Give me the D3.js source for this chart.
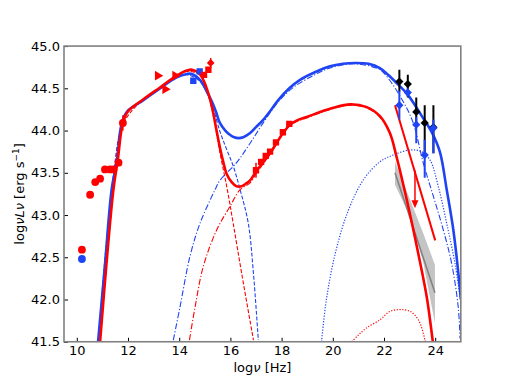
<!DOCTYPE html>
<html>
<head>
<meta charset="utf-8">
<script src="https://cdn.jsdelivr.net/npm/d3@7"></script>
<style>
  body { margin: 0; background: #fff; }
  svg { display: block; }
  text { font-family: "DejaVu Sans", sans-serif; }
</style>
</head>
<body>
<div id="chart"></div>
<script>
// ---- data (log nu, log nuLnu) ----
var xTicks = [10, 12, 14, 16, 18, 20, 22, 24];
var yTicks = [41.5, 42.0, 42.5, 43.0, 43.5, 44.0, 44.5, 45.0];

// model curves, high state (blue)
var blueTotX = [10.83, 11.1, 11.36, 11.57, 11.73, 11.95, 12.6, 13.25, 13.9, 14.3, 14.5, 14.81, 15.05, 15.28, 15.44, 15.59, 15.8, 15.98, 16.15, 16.31, 16.5, 16.77, 17.0, 17.29, 17.6, 17.87, 18.3, 18.72, 19.3, 19.89, 20.4, 20.87, 21.4, 21.84, 22.16, 22.5, 22.94, 23.46, 23.85, 24.18, 24.45, 24.71, 24.97, 25.0];
var blueTotY = [41.5, 42.41, 43.3, 43.65, 44.05, 44.22, 44.36, 44.5, 44.63, 44.67, 44.67, 44.6, 44.48, 44.34, 44.22, 44.09, 44.0, 43.95, 43.92, 43.91, 43.92, 43.97, 44.04, 44.13, 44.25, 44.36, 44.5, 44.6, 44.69, 44.76, 44.79, 44.8, 44.79, 44.74, 44.66, 44.56, 44.42, 44.18, 43.99, 43.75, 43.3, 42.82, 42.11, 42.0];
var blueSyncX = [10.83, 11.36, 11.73, 11.95, 12.6, 13.25, 13.9, 14.3, 14.81, 15.28, 15.59, 15.85, 16.11, 16.38, 16.7, 16.9, 17.09];
var blueSyncY = [41.5, 43.3, 44.05, 44.22, 44.36, 44.5, 44.63, 44.66, 44.58, 44.3, 43.99, 43.78, 43.58, 43.3, 42.9, 42.31, 41.52];
var blueSscX = [13.77, 14.03, 14.42, 14.81, 15.4, 15.59, 16.24, 16.77, 17.3, 17.9, 18.5, 19.3, 19.89, 20.87, 21.84, 22.16, 22.68, 23.13, 23.54, 23.93, 24.32, 24.64, 24.9, 24.97];
var blueSscY = [41.52, 41.91, 42.51, 42.9, 43.3, 43.41, 43.62, 43.85, 44.1, 44.35, 44.52, 44.66, 44.74, 44.79, 44.72, 44.62, 44.38, 44.1, 43.61, 43.22, 42.82, 42.43, 41.91, 41.54];
var blueEcX = [19.56, 19.75, 20.1, 20.6, 21.2, 21.84, 22.36, 23.02, 23.47, 23.8, 24.12, 24.45, 24.77, 24.97];
var blueEcY = [41.5, 42.0, 42.55, 43.05, 43.42, 43.63, 43.71, 43.77, 43.75, 43.65, 43.34, 42.9, 42.43, 42.03];

// model curves, low state (red)
var redTotX = [10.91, 11.43, 11.6, 11.78, 11.98, 12.6, 13.25, 13.9, 14.3, 14.5, 14.8, 15.05, 15.28, 15.44, 15.59, 15.72, 15.85, 16.05, 16.24, 16.44, 16.6, 16.77, 17.03, 17.3, 17.55, 17.9, 18.33, 18.6, 18.98, 19.5, 20.02, 20.67, 21.3, 21.84, 22.23, 22.49, 22.89, 23.28, 23.67, 23.9, 24.0];
var redTotY = [41.5, 43.3, 43.65, 44.06, 44.22, 44.37, 44.51, 44.65, 44.71, 44.72, 44.67, 44.52, 44.28, 44.03, 43.8, 43.63, 43.49, 43.39, 43.34, 43.34, 43.37, 43.41, 43.53, 43.63, 43.73, 43.9, 44.07, 44.12, 44.16, 44.22, 44.27, 44.31, 44.28, 44.17, 43.97, 43.69, 43.18, 42.63, 42.03, 41.52, 41.3];
var redSyncX = [10.91, 11.43, 11.78, 12.6, 13.25, 13.9, 14.3, 14.8, 15.05, 15.28, 15.59, 15.88, 16.11, 16.44, 16.9];
var redSyncY = [41.5, 43.3, 44.06, 44.37, 44.51, 44.65, 44.7, 44.66, 44.5, 44.25, 43.74, 43.3, 42.9, 42.31, 41.52];
var redSscX = [14.4, 14.62, 14.94, 15.46, 15.98, 16.38, 16.77, 17.03, 17.55, 18.33, 18.98, 20.02, 20.67, 21.3, 21.84, 22.23, 22.49, 22.89, 23.28, 23.67, 23.9];
var redSscY = [41.52, 41.91, 42.39, 42.82, 43.1, 43.3, 43.38, 43.5, 43.72, 44.06, 44.15, 44.26, 44.3, 44.27, 44.16, 43.96, 43.68, 43.17, 42.62, 42.02, 41.5];
var redEcX = [20.74, 21.0, 21.3, 21.84, 22.23, 22.63, 23.02, 23.34, 23.6, 23.65];
var redEcY = [41.5, 41.58, 41.66, 41.76, 41.86, 41.88, 41.86, 41.76, 41.52, 41.4];

// observed points
var radioRedX = [10.2, 10.52, 10.72, 10.91, 11.1, 11.3, 11.43, 11.63, 11.8];
var radioRedY = [42.59, 43.24, 43.39, 43.43, 43.54, 43.54, 43.54, 43.62, 44.09];
var radioBlueX = [10.2];
var radioBlueY = [42.48];
var irRedX = [13.16, 13.45, 13.84];
var irRedY = [44.65, 44.49, 44.65];
var optBlueX = [14.55, 14.8];
var optBlueY = [44.59, 44.7];
var optRedX = [14.97, 15.14];
var optRedY = [44.66, 44.72];
var uvRedX = [15.23];
var uvRedY = [44.8];
var xrayRedX = [17.0, 17.2, 17.38, 17.55, 17.78, 18.05, 18.3];
var xrayRedY = [43.53, 43.63, 43.7, 43.75, 43.86, 43.98, 44.08];

// gamma rays
var gamX = [22.6, 22.93, 23.26, 23.59, 23.93];
var gamBlackY = [44.58, 44.55, 44.22, 44.09, 44.04];
var gamBlackLo = [44.46, 44.39, 44.07, 43.71, 43.73];
var gamBlackHi = [44.72, 44.66, 44.39, 44.3, 44.3];
var gamBlueY = [44.3, 44.45, 44.07, 43.71, 44.03];
var gamBlueLo = [44.13, 44.4, 43.85, 43.44, 43.73];
var gamBlueHi = [44.47, 44.5, 44.16, 43.89, 44.13];

// low state gamma: upper limit, power law and bowtie
var ulX = [23.21];
var ulY = [43.53];
var ulTo = [43.08];
var plRedX = [22.43, 24.0];
var plRedY = [44.3, 42.7];
var bowX = [22.43, 23.02, 23.54, 23.99];
var bowHi = [43.63, 43.18, 42.78, 42.41];
var bowLo = [43.36, 42.98, 42.43, 41.72];
var bowMidX = [22.43, 23.99];
var bowMidY = [43.5, 42.08];

var RED = "#ff0000", BLUE = "#1f44f4";

// ---- chart ----
var margin = { top: 46.08, right: 51.2, bottom: 42.24, left: 64 },
    width = 512 - margin.left - margin.right,
    height = 384 - margin.top - margin.bottom;

var svg = d3.select("#chart").append("svg")
    .attr("width", 512)
    .attr("height", 384)
    .append("g")
    .attr("transform", "translate(" + margin.left + "," + margin.top + ")");

var x = d3.scaleLinear().domain([9.5, 25]).range([0, width]);
var y = d3.scaleLinear().domain([41.5, 45]).range([height, 0]);

svg.append("clipPath").attr("id", "clip")
    .append("rect").attr("width", width).attr("height", height);

var plot = svg.append("g").attr("clip-path", "url(#clip)");

var line = d3.line()
    .x(function (d) { return x(d[0]); })
    .y(function (d) { return y(d[1]); })
    .curve(d3.curveCatmullRom.alpha(0.5));

function curve(xs, ys, color, w, dash) {
    plot.append("path")
        .datum(d3.zip(xs, ys))
        .attr("fill", "none")
        .attr("stroke", color)
        .attr("stroke-width", w)
        .attr("stroke-dasharray", dash || null)
        .attr("d", line);
}

// bowtie
var area = d3.area()
    .x(function (d) { return x(d[0]); })
    .y0(function (d) { return y(d[2]); })
    .y1(function (d) { return y(d[1]); });
plot.append("path")
    .datum(d3.zip(bowX, bowHi, bowLo))
    .attr("fill", "#c4c4c4")
    .attr("d", area);
plot.append("path")
    .datum(d3.zip(bowMidX, bowMidY))
    .attr("fill", "none").attr("stroke", "#808080").attr("stroke-width", 1.5)
    .attr("d", d3.line().x(function (d) { return x(d[0]); }).y(function (d) { return y(d[1]); }));

// components
var DASH = "4,1.8", DASHDOT = "6,2,1.2,2", DOT = "1.2,1.6";
curve(blueSyncX, blueSyncY, BLUE, 1.1, DASH);
curve(redSyncX, redSyncY, RED, 1.1, DASH);
curve(blueSscX, blueSscY, BLUE, 1.1, DASHDOT);
curve(redSscX, redSscY, RED, 1.1, DASHDOT);
curve(blueEcX, blueEcY, BLUE, 1.2, DOT);
curve(redEcX, redEcY, RED, 1.2, DOT);

// totals
curve(blueTotX, blueTotY, BLUE, 2.6);
curve(redTotX, redTotY, RED, 2.6);

// red power law line
plot.append("path")
    .datum(d3.zip(plRedX, plRedY))
    .attr("fill", "none").attr("stroke", RED).attr("stroke-width", 2)
    .attr("d", d3.line().x(function (d) { return x(d[0]); }).y(function (d) { return y(d[1]); }));

// upper limit arrow
ulX.forEach(function (v, i) {
    plot.append("line")
        .attr("x1", x(v)).attr("x2", x(v))
        .attr("y1", y(ulY[i])).attr("y2", y(ulTo[i]) - 6)
        .attr("stroke", RED).attr("stroke-width", 1.5);
    plot.append("path")
        .attr("d", "M" + (x(v) - 3.5) + "," + (y(ulTo[i]) - 8) + "L" + (x(v) + 3.5) + "," + (y(ulTo[i]) - 8) + "L" + x(v) + "," + y(ulTo[i]) + "Z")
        .attr("fill", RED);
});

// markers
function points(xs, ys, color, type, size, rot) {
    var sym = d3.symbol().type(type).size(size);
    plot.selectAll(null)
        .data(d3.zip(xs, ys))
        .enter().append("path")
        .attr("d", sym)
        .attr("fill", color)
        .attr("transform", function (d) {
            return "translate(" + x(d[0]) + "," + y(d[1]) + ")" + (rot ? " rotate(" + rot + ")" : "");
        });
}

function errbars(xs, lo, hi, color, w) {
    plot.selectAll(null)
        .data(d3.zip(xs, lo, hi))
        .enter().append("line")
        .attr("x1", function (d) { return x(d[0]); })
        .attr("x2", function (d) { return x(d[0]); })
        .attr("y1", function (d) { return y(d[1]); })
        .attr("y2", function (d) { return y(d[2]); })
        .attr("stroke", color)
        .attr("stroke-width", w);
}

points(radioBlueX, radioBlueY, BLUE, d3.symbolCircle, 48);
points(radioRedX, radioRedY, RED, d3.symbolCircle, 48);
errbars([11.8], [44.0], [44.18], RED, 1.5);
points(irRedX, irRedY, RED, d3.symbolTriangle, 40, 90);
points(optBlueX, optBlueY, BLUE, d3.symbolSquare, 40);
points(optRedX, optRedY, RED, d3.symbolSquare, 40);
errbars(uvRedX, [44.74], [44.86], RED, 1.5);
points(uvRedX, uvRedY, RED, d3.symbolSquare, 30, 45);
errbars([17.0], [43.44], [43.62], RED, 1.5);
points(xrayRedX, xrayRedY, RED, d3.symbolSquare, 40);

errbars(gamX, gamBlackLo, gamBlackHi, "#000", 2);
points(gamX, gamBlackY, "#000", d3.symbolSquare, 34, 45);
errbars(gamX, gamBlueLo, gamBlueHi, BLUE, 2);
points(gamX, gamBlueY, BLUE, d3.symbolSquare, 34, 45);

// axes
var xAxis = svg.append("g")
    .attr("transform", "translate(0," + height + ")")
    .call(d3.axisBottom(x).tickValues(xTicks).tickSizeInner(-4).tickSizeOuter(0).tickPadding(4));
var yAxis = svg.append("g")
    .call(d3.axisLeft(y).tickValues(yTicks).tickFormat(d3.format(".1f")).tickSizeInner(-4).tickSizeOuter(0).tickPadding(4));
[xAxis, yAxis].forEach(function (a) {
    a.select(".domain").remove();
    a.selectAll("text").attr("font-size", 13).attr("fill", "#000")
        .attr("font-family", "DejaVu Sans, sans-serif");
    a.selectAll("line").attr("stroke", "#000");
});

// frame
svg.append("rect")
    .attr("width", width).attr("height", height)
    .attr("fill", "none").attr("stroke", "#808080").attr("stroke-width", 1.6);

// axis labels
var xl = svg.append("text")
    .attr("x", width / 2).attr("y", height + 30)
    .attr("text-anchor", "middle").attr("font-size", 13);
xl.append("tspan").text("log");
xl.append("tspan").attr("font-style", "italic").text("ν");
xl.append("tspan").text(" [Hz]");

var yl = svg.append("text")
    .attr("transform", "translate(" + (-40.5) + "," + (height / 2) + ") rotate(-90)")
    .attr("text-anchor", "middle").attr("font-size", 13);
yl.append("tspan").text("log");
yl.append("tspan").attr("font-style", "italic").text("νLν");
yl.append("tspan").text(" [erg s");
yl.append("tspan").attr("font-size", 9).attr("dy", -5).text("−1");
yl.append("tspan").attr("dy", 5).text("]");
</script>
</body>
</html>
